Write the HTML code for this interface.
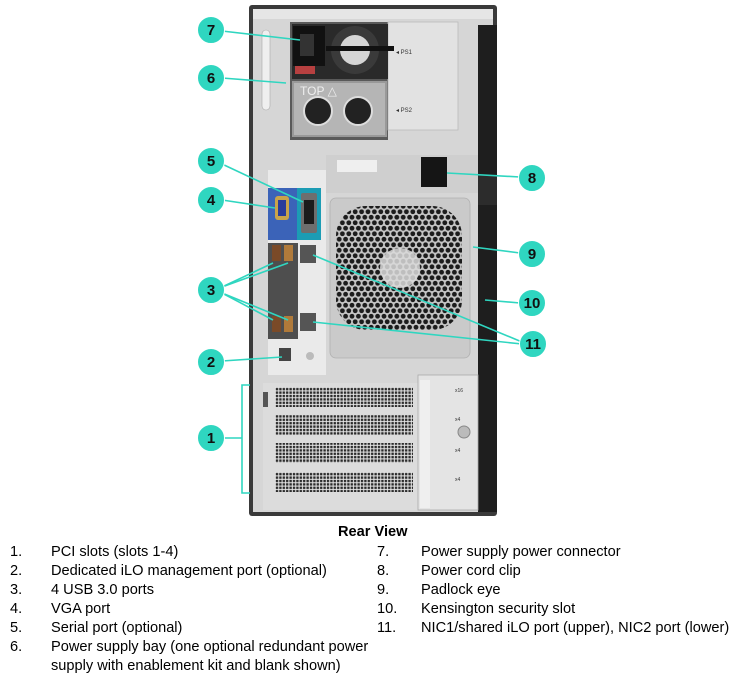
<!DOCTYPE html>
<html><head><meta charset="utf-8"><style>
html,body{margin:0;padding:0;background:#fff;}
body{width:731px;height:679px;position:relative;overflow:hidden;font-family:"Liberation Sans",Arial,sans-serif;}
svg{position:absolute;left:0;top:0;}
.lg{position:absolute;font-size:14.6px;color:#000;white-space:nowrap;line-height:19px;}
</style></head><body>
<svg width="731" height="520" viewBox="0 0 731 520">
<defs>
<pattern id="hex" width="6.4" height="11" patternUnits="userSpaceOnUse">
<circle cx="3.2" cy="2.75" r="2.4" fill="#1c1c1c"/>
<circle cx="0" cy="8.25" r="2.4" fill="#1c1c1c"/>
<circle cx="6.4" cy="8.25" r="2.4" fill="#1c1c1c"/>
</pattern>
<pattern id="sq" width="3.4" height="3.4" patternUnits="userSpaceOnUse">
<rect width="3.4" height="3.4" fill="#e8e8e8"/>
<rect x="0.4" y="0.4" width="2.4" height="2.4" fill="#2a2a2a"/>
</pattern>
<clipPath id="fanclip"><rect x="336" y="206" width="126" height="124" rx="30"/></clipPath>
</defs>
<rect x="249" y="5" width="248" height="511" rx="3" fill="#3a3a3a"/>
<rect x="253" y="9" width="240" height="503" fill="#d6d6d6"/>
<rect x="253" y="9" width="240" height="10" fill="#e6e6e6"/>
<rect x="478" y="25" width="19" height="487" fill="#1e1e1e"/>
<rect x="478" y="175" width="19" height="30" fill="#2c2c2c"/>
<rect x="262" y="30" width="8" height="80" rx="4" fill="#efefef" stroke="#aaa" stroke-width="0.6"/>
<rect x="290" y="22" width="98" height="118" fill="#5a5a5a"/>
<rect x="388" y="22" width="70" height="108" fill="#e2e2e2" stroke="#bbb" stroke-width="0.8"/>
<rect x="292" y="24" width="96" height="55" fill="#2a2a2a"/>
<rect x="293" y="26" width="32" height="40" fill="#111"/>
<rect x="300" y="34" width="14" height="22" fill="#333"/>
<circle cx="355" cy="50" r="24" fill="#3a3a3a"/>
<circle cx="355" cy="50" r="15" fill="#d5d5d5"/>
<rect x="326" y="46" width="68" height="5" fill="#111"/>
<rect x="295" y="66" width="20" height="8" fill="#b74040"/>
<rect x="292" y="81" width="95" height="56" fill="#999"/>
<rect x="294" y="83" width="91" height="52" fill="#b5b5b5"/>
<text x="300" y="95" font-size="12" fill="#eee" font-family="Liberation Sans,sans-serif">TOP △</text>
<circle cx="318" cy="111" r="14" fill="#222" stroke="#ddd" stroke-width="2"/>
<circle cx="358" cy="111" r="14" fill="#222" stroke="#ddd" stroke-width="2"/>
<text x="396" y="54" font-size="6" fill="#333">◂ PS1</text>
<text x="396" y="112" font-size="6" fill="#333">◂ PS2</text>
<rect x="326" y="155" width="152" height="38" fill="#cfcfcf"/>
<rect x="337" y="160" width="40" height="12" fill="#efefef"/>
<rect x="421" y="157" width="26" height="30" fill="#151515"/>
<rect x="330" y="198" width="140" height="160" rx="6" fill="#cacaca" stroke="#b0b0b0" stroke-width="0.8"/>
<rect x="336" y="206" width="126" height="124" rx="30" fill="#c4c4c4"/>
<rect x="336" y="206" width="126" height="124" fill="url(#hex)" clip-path="url(#fanclip)"/>
<circle cx="400" cy="268" r="20" fill="#dadada" opacity="0.85"/>
<rect x="268" y="170" width="58" height="205" fill="#eaeaea"/>
<rect x="268" y="188" width="29" height="52" fill="#3b63b8"/>
<rect x="297" y="188" width="24" height="52" fill="#1c9cb4"/>
<rect x="275" y="196" width="14" height="24" rx="3" fill="#c9a34a"/>
<rect x="278" y="200" width="8" height="16" fill="#2a3c9a"/>
<rect x="301" y="193" width="16" height="40" rx="2" fill="#6e6e6e"/>
<rect x="304" y="200" width="10" height="24" fill="#1c1c1c"/>
<rect x="268" y="243" width="30" height="96" fill="#4e4e4e"/>
<rect x="272" y="245" width="9" height="16" fill="#7a4a28"/>
<rect x="284" y="245" width="9" height="16" fill="#b07a3a"/>
<rect x="272" y="316" width="9" height="16" fill="#7a4a28"/>
<rect x="284" y="316" width="9" height="16" fill="#b07a3a"/>
<rect x="300" y="245" width="16" height="18" fill="#555"/>
<rect x="300" y="313" width="16" height="18" fill="#555"/>
<rect x="279" y="348" width="12" height="13" fill="#444"/>
<circle cx="310" cy="356" r="4" fill="#bbb"/>
<rect x="263" y="383" width="155" height="127" fill="#dcdcdc"/>
<rect x="275" y="387" width="138" height="20" fill="url(#sq)"/>
<rect x="275" y="415" width="138" height="20" fill="url(#sq)"/>
<rect x="275" y="443" width="138" height="20" fill="url(#sq)"/>
<rect x="275" y="472" width="138" height="20" fill="url(#sq)"/>
<rect x="263" y="392" width="5" height="15" fill="#555"/>
<rect x="418" y="375" width="60" height="135" fill="#e4e4e4" stroke="#aaa" stroke-width="0.8"/>
<rect x="420" y="380" width="10" height="128" fill="#efefef"/>
<circle cx="464" cy="432" r="6" fill="#bbb" stroke="#888"/>
<text x="455" y="392" font-size="5" fill="#333">x16</text>
<text x="455" y="421" font-size="5" fill="#333">x4</text>
<text x="455" y="452" font-size="5" fill="#333">x4</text>
<text x="455" y="481" font-size="5" fill="#333">x4</text>
<g stroke="#2fd6c0" stroke-width="1.6" fill="none">
<line x1="222" y1="31" x2="300" y2="40"/>
<line x1="222" y1="78" x2="286" y2="83"/>
<line x1="222" y1="164" x2="303" y2="202"/>
<line x1="222" y1="200" x2="275" y2="208"/>
<line x1="222" y1="287" x2="273" y2="263"/>
<line x1="222" y1="287" x2="288" y2="263"/>
<line x1="222" y1="293" x2="273" y2="320"/>
<line x1="222" y1="293" x2="288" y2="320"/>
<line x1="222" y1="361" x2="282" y2="357"/>
<polyline points="250,385 242,385 242,493 250,493"/>
<line x1="222" y1="438" x2="242" y2="438"/>
<line x1="520" y1="177" x2="447" y2="173"/>
<line x1="520" y1="253" x2="473" y2="247"/>
<line x1="520" y1="303" x2="485" y2="300"/>
<line x1="522" y1="342" x2="313" y2="255"/>
<line x1="522" y1="344" x2="313" y2="322"/>
</g>
<g fill="#2fd6c0" stroke="#fff" stroke-width="1">
<circle cx="211" cy="30" r="13.5"/><circle cx="211" cy="78" r="13.5"/>
<circle cx="211" cy="161" r="13.5"/><circle cx="211" cy="200" r="13.5"/>
<circle cx="211" cy="290" r="13.5"/><circle cx="211" cy="362" r="13.5"/>
<circle cx="211" cy="438" r="13.5"/><circle cx="532" cy="178" r="13.5"/>
<circle cx="532" cy="254" r="13.5"/><circle cx="532" cy="303" r="13.5"/>
<circle cx="533" cy="344" r="13.5"/>
</g>
<g font-family="Liberation Sans,sans-serif" font-weight="bold" font-size="15" fill="#111" text-anchor="middle">
<text x="211" y="35">7</text><text x="211" y="83">6</text><text x="211" y="166">5</text>
<text x="211" y="205">4</text><text x="211" y="295">3</text><text x="211" y="367">2</text>
<text x="211" y="443">1</text><text x="532" y="183">8</text><text x="532" y="259">9</text>
<text x="532" y="308">10</text><text x="533" y="349">11</text>
</g>
</svg>
<div class="lg" style="left:338px;top:523px;font-weight:bold;">Rear View</div>
<div class="lg" style="left:10px;top:543px;">1.<br>2.<br>3.<br>4.<br>5.<br>6.</div>
<div class="lg" style="left:51px;top:543px;">PCI slots (slots 1-4)<br>Dedicated iLO management port (optional)<br>4 USB 3.0 ports<br>VGA port<br>Serial port (optional)<br>Power supply bay (one optional redundant power<br>supply with enablement kit and blank shown)</div>
<div class="lg" style="left:377px;top:543px;">7.<br>8.<br>9.<br>10.<br>11.</div>
<div class="lg" style="left:421px;top:543px;">Power supply power connector<br>Power cord clip<br>Padlock eye<br>Kensington security slot<br>NIC1/shared iLO port (upper), NIC2 port (lower)</div>
</body></html>
